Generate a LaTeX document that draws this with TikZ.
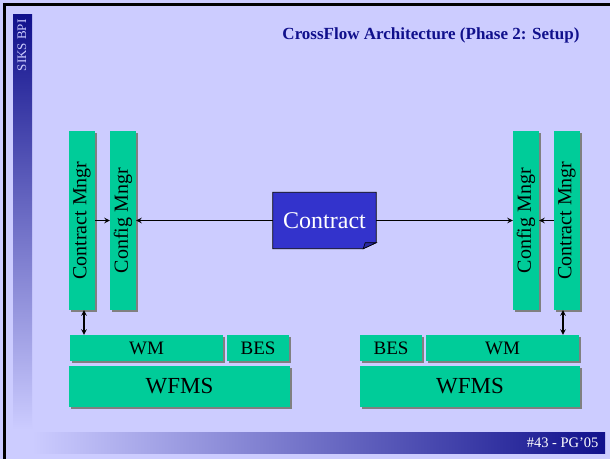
\documentclass[tikz,border=0pt]{standalone}
\usepackage{fontspec}
\setmainfont{Liberation Serif}
\usetikzlibrary{shadows, positioning}
\definecolor{slidebg}{RGB}{204,204,255}
\definecolor{navy}{RGB}{16,16,140}
\definecolor{mngrgreen}{RGB}{0,204,153}
\definecolor{docblue}{RGB}{51,51,204}
\definecolor{shadowgray}{RGB}{128,128,128}
\tikzset{
  part/.style={fill=mngrgreen, inner sep=0pt, text=black,
    drop shadow={shadow xshift=2pt, shadow yshift=-2pt, fill=shadowgray, opacity=1}},
  flow/.style={line width=1.4pt, black}
}
\begin{document}
\begin{tikzpicture}[>=stealth, x=1pt, y=-1pt]
\useasboundingbox (0,0) rectangle (610,459);
\fill[slidebg](0,0) rectangle (610,459);
\fill[black](3,3) rectangle (6,459);
\fill[black](3,3) rectangle (610,6);
\shade[top color=navy, bottom color=slidebg](13,14) rectangle (32,430);
\shade[left color=slidebg, right color=navy](32,432) rectangle (605,453);
\node[text=slidebg, font=\fontsize{13}{14}\selectfont, anchor=north] (siks) at (22,16){\rotatebox{90}{SIKS BPI}};
\node[text=navy, font=\bfseries\fontsize{17}{19}\selectfont, anchor=base east] (title) at (583,39){CrossFlow Architecture (Phase 2: Setup)};
\node[text=white, font=\fontsize{14.5}{16}\selectfont, anchor=base east] (slideno) at (602,447){\#43 - PG'05};
% managers, rotated text
\node[part, minimum width=26pt, minimum height=179pt, font=\fontsize{20}{22}\selectfont] (cml) at (82,220.5){\rotatebox{90}{Contract Mngr}};
\node[part, minimum width=26pt, minimum height=179pt, font=\fontsize{20}{22}\selectfont] (cfl) at (123,220.5){\rotatebox{90}{Config Mngr}};
\node[part, minimum width=26pt, minimum height=179pt, font=\fontsize{20}{22}\selectfont] (cfr) at (526,220.5){\rotatebox{90}{Config Mngr}};
\node[part, minimum width=26pt, minimum height=179pt, font=\fontsize{20}{22}\selectfont] (cmr) at (567,220.5){\rotatebox{90}{Contract Mngr}};
% the contract document
\node[minimum width=103pt, minimum height=56pt] (contract) at (324.5,220.5){};
\draw[fill=docblue, line width=0.8pt](contract.north west) -- (contract.north east) -- ([yshift=6pt]contract.south east) -- ([xshift=-13pt]contract.south east) -- (contract.south west) -- cycle;
\draw[fill=docblue!80!black, line width=0.6pt]([xshift=-13pt]contract.south east) -- ([xshift=-11pt, yshift=6pt]contract.south east) -- ([yshift=6pt]contract.south east) -- cycle;
\node[text=white, font=\fontsize{24}{26}\selectfont] (contracttext) at (contract){Contract};
% engines
\node[part, minimum width=153pt, minimum height=26pt, font=\fontsize{19}{21}\selectfont] (wml) at (146.5,348){WM};
\node[part, minimum width=62pt, minimum height=26pt, font=\fontsize{19}{21}\selectfont] (besl) at (258,348){BES};
\node[part, minimum width=221pt, minimum height=41pt, font=\fontsize{23}{25}\selectfont] (wfmsl) at (179.5,386.5){WFMS};
\node[part, minimum width=62pt, minimum height=26pt, font=\fontsize{19}{21}\selectfont] (besr) at (391,348){BES};
\node[part, minimum width=153pt, minimum height=26pt, font=\fontsize{19}{21}\selectfont] (wmr) at (502.5,348){WM};
\node[part, minimum width=220pt, minimum height=41pt, font=\fontsize{23}{25}\selectfont] (wfmsr) at (470,386.5){WFMS};
% connectors
\draw[flow, ->](cml.east) -- (cfl.west);
\draw[flow, ->](contract.west) -- (cfl.east);
\draw[flow, ->](contract.east) -- (cfr.west);
\draw[flow, ->](cmr.west) -- (cfr.east);
\draw[flow, <->]([xshift=2pt]cml.south) -- ([xshift=2pt]cml.south |- wml.north);
\draw[flow, <->]([xshift=-4pt]cmr.south) -- ([xshift=-4pt]cmr.south |- wmr.north);
\end{tikzpicture}
\end{document}
